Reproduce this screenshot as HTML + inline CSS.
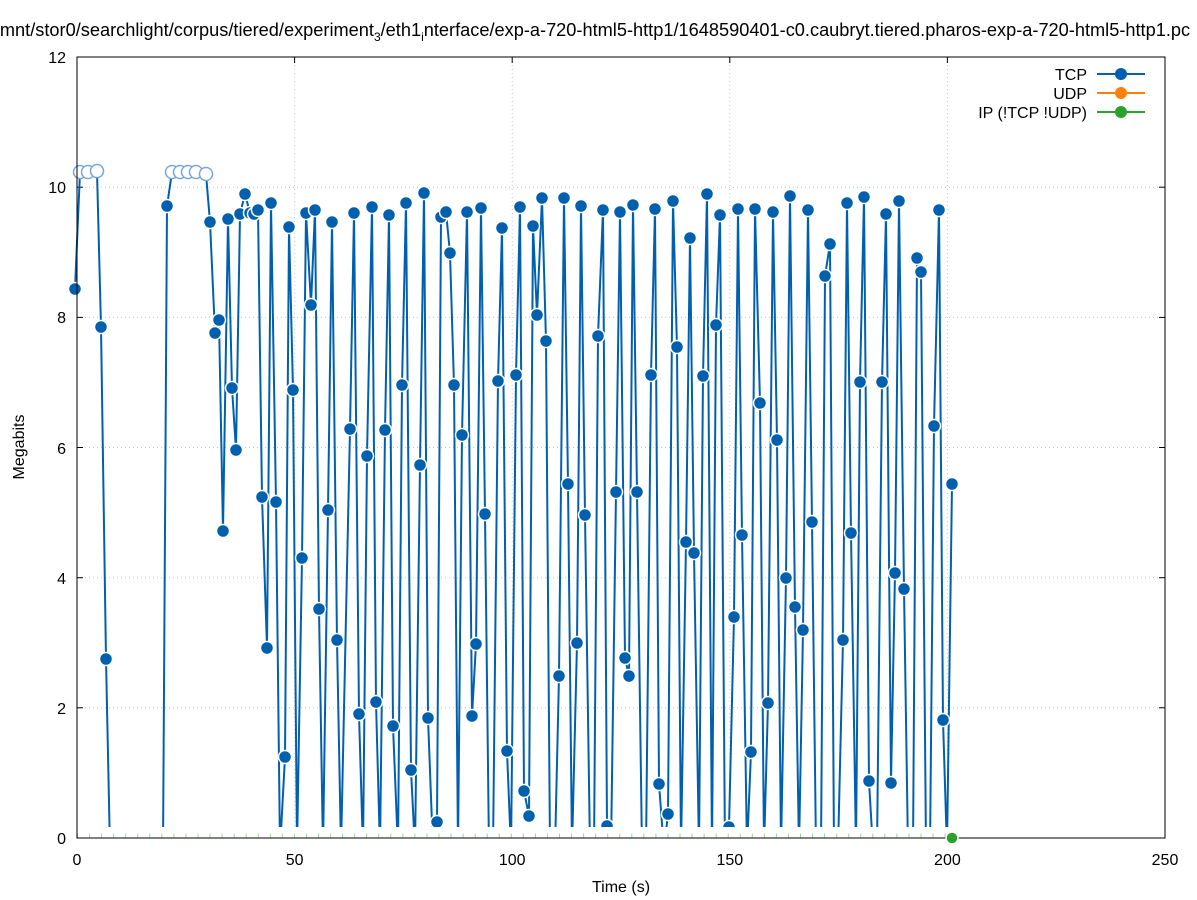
<!DOCTYPE html>
<html><head><meta charset="utf-8"><style>
body{margin:0;background:#fff}
svg{display:block;font-family:"Liberation Sans","DejaVu Sans",sans-serif}
</style></head><body>
<svg id="s" width="1197" height="900" xmlns="http://www.w3.org/2000/svg">
<defs><clipPath id="cp"><rect x="60" y="40" width="1110" height="797"/></clipPath></defs>
<rect width="1197" height="900" fill="#fff"/>
<g stroke="#c8c8c8" stroke-width="1" stroke-dasharray="1 3">
<line x1="294.6" y1="57" x2="294.6" y2="838"/><line x1="512.2" y1="57" x2="512.2" y2="838"/>
<line x1="729.8" y1="57" x2="729.8" y2="838"/><line x1="947.4" y1="57" x2="947.4" y2="838"/>
<line x1="77" y1="707.8" x2="1165" y2="707.8"/><line x1="77" y1="577.7" x2="1165" y2="577.7"/>
<line x1="77" y1="447.5" x2="1165" y2="447.5"/><line x1="77" y1="317.4" x2="1165" y2="317.4"/>
<line x1="77" y1="187.2" x2="1165" y2="187.2"/>
</g>
<g stroke="#000" stroke-width="1">
<line x1="77" y1="707.8" x2="83" y2="707.8"/><line x1="77" y1="577.7" x2="83" y2="577.7"/><line x1="77" y1="447.5" x2="83" y2="447.5"/><line x1="77" y1="317.4" x2="83" y2="317.4"/><line x1="77" y1="187.2" x2="83" y2="187.2"/>
<line x1="1165" y1="707.8" x2="1159" y2="707.8"/><line x1="1165" y1="577.7" x2="1159" y2="577.7"/><line x1="1165" y1="447.5" x2="1159" y2="447.5"/><line x1="1165" y1="317.4" x2="1159" y2="317.4"/><line x1="1165" y1="187.2" x2="1159" y2="187.2"/>
<line x1="294.6" y1="838" x2="294.6" y2="832"/><line x1="512.2" y1="838" x2="512.2" y2="832"/><line x1="729.8" y1="838" x2="729.8" y2="832"/><line x1="947.4" y1="838" x2="947.4" y2="832"/>
<line x1="294.6" y1="57" x2="294.6" y2="63"/><line x1="512.2" y1="57" x2="512.2" y2="63"/><line x1="729.8" y1="57" x2="729.8" y2="63"/><line x1="947.4" y1="57" x2="947.4" y2="63"/>
</g>
<g font-size="16" fill="#000" text-anchor="end">
<text x="66" y="844">0</text><text x="66" y="714">2</text><text x="66" y="584">4</text><text x="66" y="454">6</text><text x="66" y="323">8</text><text x="66" y="193">10</text><text x="66" y="63">12</text>
</g>
<g font-size="16" fill="#000" text-anchor="middle">
<text x="77" y="865">0</text><text x="294.6" y="865">50</text><text x="512.2" y="865">100</text><text x="729.8" y="865">150</text><text x="947.4" y="865">200</text><text x="1165" y="865">250</text>
<text x="621" y="892">Time (s)</text>
<text x="595" y="36" font-size="18.2">mnt/stor0/searchlight/corpus/tiered/experiment<tspan font-size="12" dy="5">3</tspan><tspan dy="-5">/eth1</tspan><tspan font-size="12" dy="5">i</tspan><tspan dy="-5">nterface/exp-a-720-html5-http1/1648590401-c0.caubryt.tiered.pharos-exp-a-720-html5-http1.pc</tspan></text>
<text transform="translate(24,447) rotate(-90)">Megabits</text>
</g>
<g font-size="16" fill="#000" text-anchor="end">
<text x="1087" y="80">TCP</text><text x="1087" y="99">UDP</text><text x="1087" y="118">IP (!TCP  !UDP)</text>
</g>
<g stroke-width="2">
<line x1="1097" y1="74" x2="1145" y2="74" stroke="#0060ad"/><circle cx="1121" cy="74" r="6" fill="#0060ad"/>
<line x1="1097" y1="93" x2="1145" y2="93" stroke="#ff7f0e"/><circle cx="1121" cy="93" r="6" fill="#ff7f0e"/>
<line x1="1097" y1="112" x2="1145" y2="112" stroke="#2ca02c"/><circle cx="1121" cy="112" r="6" fill="#2ca02c"/>
</g>
<g id="d" clip-path="url(#cp)"></g>
<rect x="78" y="827" width="1086" height="10.5" fill="#fff"/>
<line x1="77" y1="835.5" x2="952" y2="835.5" stroke="#9ad89a" stroke-width="4" stroke-dasharray="1 11.05"/>
<rect x="77" y="57" width="1088" height="781" fill="none" stroke="#000" stroke-width="1"/>
<circle cx="952" cy="838" r="6" fill="#2ca02c" stroke="#fff" stroke-width="1.5"/>
</svg>
<script>
var p=[75,289,80,172,88,172,97,171,101,327,106,659,110,850,163,850,167,206,172,172,180,172,188,172,196,172,206,174,210,222,215,333,219,320,223,531,228,219,232,388,236,450,240,214,245,194,250,213,254,214,258,210,262,497,267,648,271,203,276,502,280,850,285,757,289,227,293,390,297,850,302,558,306,213,311,305,315,210,319,609,323,850,328,510,332,222,337,640,341,850,350,429,354,213,359,714,363,850,367,456,372,207,376,702,380,850,385,430,389,215,393,726,398,850,402,385,406,203,411,770,415,850,420,465,424,193,428,718,433,850,437,822,441,217,446,212,450,253,454,385,458,850,462,435,467,212,472,716,476,644,481,208,485,514,489,850,493,850,498,381,502,228,507,751,511,850,516,375,520,207,524,791,529,816,533,226,537,315,542,198,546,341,550,850,555,850,559,676,564,198,568,484,572,850,577,643,581,206,585,515,590,850,594,850,598,336,603,210,607,826,611,850,616,492,620,212,625,658,629,676,633,205,637,492,642,850,646,850,651,375,655,209,659,784,664,850,668,814,673,201,677,347,681,850,686,542,690,238,694,553,699,850,703,376,707,194,712,850,716,325,720,215,725,850,729,827,734,617,738,209,742,535,747,850,751,752,755,209,760,403,764,850,768,703,773,212,777,440,781,850,786,578,790,196,795,607,799,850,803,630,808,210,812,522,816,850,821,850,825,276,830,244,834,850,838,850,843,640,847,203,851,533,856,850,860,382,864,197,869,781,873,850,877,850,882,382,886,214,891,783,895,573,899,201,904,589,908,850,913,850,917,258,921,272,926,850,930,850,934,426,939,210,943,720,947,850,952,484];
var ns="http://www.w3.org/2000/svg",g=document.getElementById("d"),pts=[];
for(var i=0;i<p.length;i+=2)pts.push(p[i]+","+p[i+1]);
var pl=document.createElementNS(ns,"polyline");pl.setAttribute("points",pts.join(" "));pl.setAttribute("fill","none");pl.setAttribute("stroke","#0060ad");pl.setAttribute("stroke-width","2");g.appendChild(pl);
for(var i=0;i<p.length;i+=2){if(p[i+1]>=836)continue;var c=document.createElementNS(ns,"circle");c.setAttribute("cx",p[i]);c.setAttribute("cy",p[i+1]);c.setAttribute("r","6.5");
var isTop=p[i+1]<180;c.setAttribute("fill",isTop?"#fff":"#0060ad");c.setAttribute("stroke",isTop?"#7aa6d6":"#fff");c.setAttribute("stroke-width","1.5");g.appendChild(c);}
</script>
</body></html>
